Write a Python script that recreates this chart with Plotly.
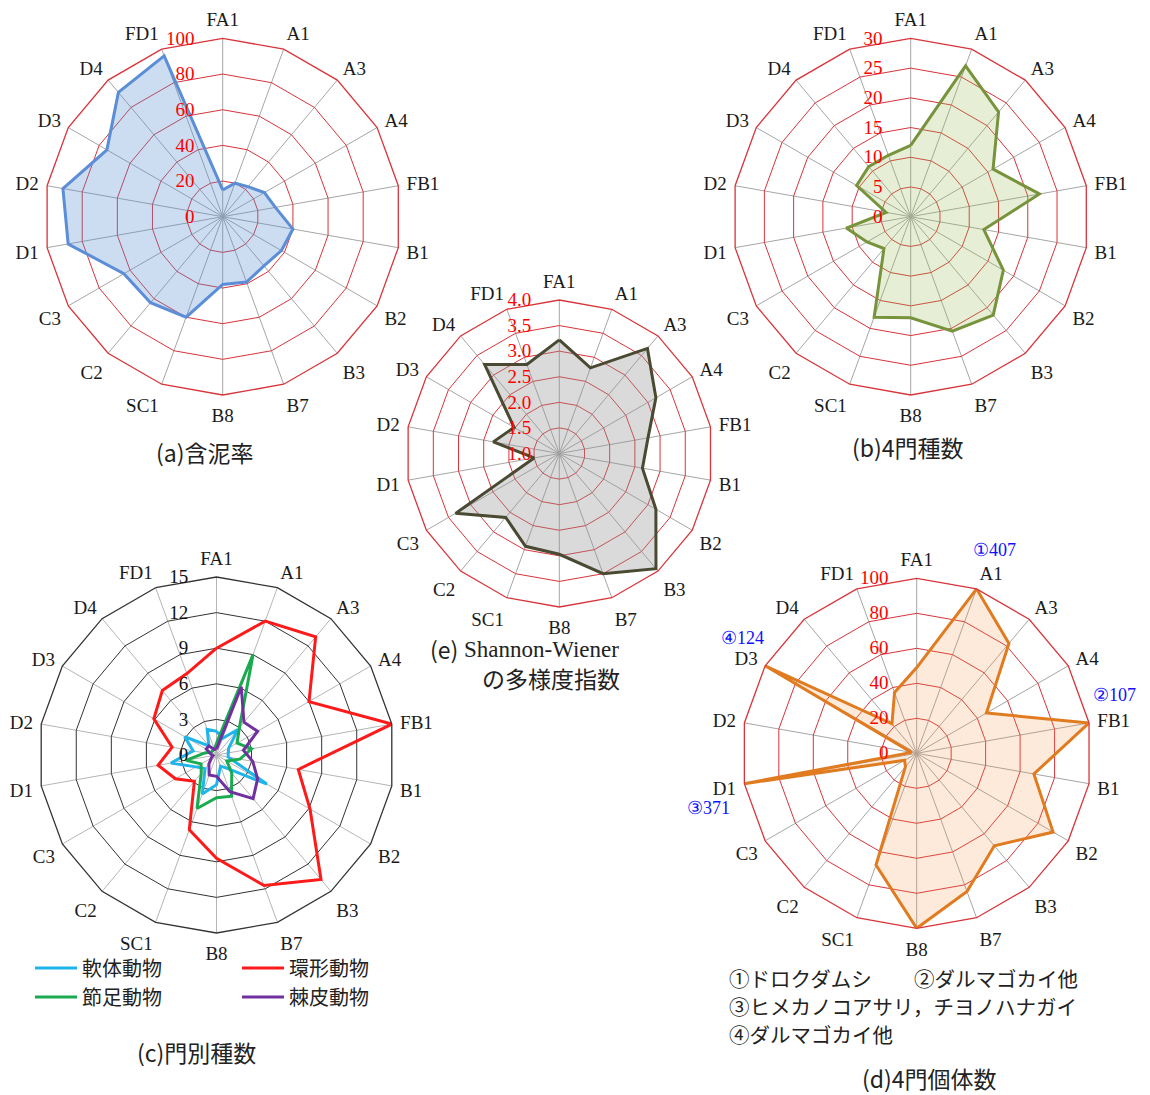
import plotly.graph_objects as go
import numpy as np

W, H = 1150, 1095

categories = ["FA1", "A1", "A3", "A4", "FB1", "B1", "B2", "B3", "B7", "B8",
              "SC1", "C2", "C3", "D1", "D2", "D3", "D4", "FD1"]

# (a) mud content (%)
mud_content = [15, 20, 22, 27, 30, 40, 38, 36, 39, 38, 60, 63, 64, 88, 91, 75, 91, 96]
# (b) number of species (4 phyla)
species_4phyla = [12, 27, 23, 16, 22, 12.5, 18, 21.6, 20.5, 17, 18, 7, 8.5, 11, 4.2, 10.5, 11, 11]
# (e) Shannon-Wiener diversity index
shannon = [3.22, 2.78, 3.68, 3.18, 2.76, 2.65, 3.18, 3.94, 3.5, 2.97, 2.93, 2.63, 3.34, 1.5, 2.31, 2.02, 3.27, 2.85]
# (c) species by phylum
mollusca = [2, 1.5, 2.8, 1.2, 1, 1, 4.9, 1.5, 1, 2.5, 3.5, 1.5, 2, 3.9, 2, 3.1, 1, 2.3]
annelida = [9, 12, 13, 9, 15, 7, 9.1, 13.7, 11.7, 8.7, 6.7, 2.9, 4, 5, 3.8, 6.1, 7.1, 7.3]
arthropoda = [1, 9, 3, 2, 3, 2, 1, 2, 3.7, 3.6, 4.8, 2, 1.5, 2.6, 1, 0.5, 0.5, 0.5]
echinodermata = [0.5, 6.1, 3.6, 4, 2.3, 3.1, 4, 4.8, 3.3, 1.8, 1.8, 1, 0.5, 0.3, 0.5, 1, 1, 0.5]
# (d) number of individuals (4 phyla), axis capped at 100
individuals = [49, 407, 82, 46, 107, 68, 90, 69, 84, 100, 68, 10, 8, 371, 3, 124, 22, 37]

radial_ticks_a = [0, 20, 40, 60, 80, 100]
radial_ticks_b = [0, 5, 10, 15, 20, 25, 30]
radial_ticks_e = [1.0, 1.5, 2.0, 2.5, 3.0, 3.5, 4.0]
radial_ticks_c = [0, 3, 6, 9, 12, 15]
radial_ticks_d = [0, 20, 40, 60, 80, 100]

SERIF = "Liberation Serif"
CJK = "Noto Sans CJK JP"
RED_GRID = "#d8343a"
SPOKE = "#a6a6a6"


def closed(v):
    v = list(v)
    return v + v[:1]


theta = closed(categories)


def polar_cfg(cx, cy, R, ticks, ring_color, spoke_color, label_color, fmt=None):
    return dict(
        domain=dict(x=[(cx - R) / W, (cx + R) / W], y=[1 - (cy + R) / H, 1 - (cy - R) / H]),
        gridshape="linear",
        bgcolor="white",
        angularaxis=dict(
            rotation=90, direction="clockwise", type="category",
            categoryorder="array", categoryarray=categories,
            showline=True, linecolor=ring_color, linewidth=1.3,
            showgrid=True, gridcolor=spoke_color, gridwidth=1.3,
            ticks="outside", ticklen=4, tickcolor="rgba(0,0,0,0)",
            tickfont=dict(family=SERIF, size=19, color="#1a1a1a"),
        ),
        radialaxis=dict(
            range=[ticks[0], ticks[-1]], tickvals=ticks,
            ticktext=[(fmt.format(t) if fmt else str(t)) for t in ticks],
            angle=90, side="counterclockwise", showline=False,
            showgrid=True, gridcolor=ring_color, gridwidth=1.3,
            ticks="outside", ticklen=21, tickcolor="rgba(0,0,0,0)",
            tickangle=90,
            tickfont=dict(family=SERIF, size=19, color=label_color),
        ),
    )


fig = go.Figure()

# (a)
fig.add_trace(go.Scatterpolar(
    r=closed(mud_content), theta=theta, subplot="polar", mode="lines",
    fill="toself", fillcolor="rgba(85,142,213,0.3)",
    line=dict(color="#5b8ed6", width=3), showlegend=False))
# (b)
fig.add_trace(go.Scatterpolar(
    r=closed(species_4phyla), theta=theta, subplot="polar2", mode="lines",
    fill="toself", fillcolor="rgba(155,187,89,0.25)",
    line=dict(color="#77933c", width=3), showlegend=False))
# (e)
fig.add_trace(go.Scatterpolar(
    r=closed(shannon), theta=theta, subplot="polar3", mode="lines",
    fill="toself", fillcolor="rgba(150,150,150,0.35)",
    line=dict(color="#4a4a32", width=3), showlegend=False))
# (c)
series_c = [
    ("軟体動物", mollusca, "#1fb4ea", "legend"),
    ("環形動物", annelida, "#ff1a1a", "legend"),
    ("節足動物", arthropoda, "#1aaa50", "legend2"),
    ("棘皮動物", echinodermata, "#7030a0", "legend2"),
]
for name, vals, col, lg in series_c:
    fig.add_trace(go.Scatterpolar(
        r=closed(vals), theta=theta, subplot="polar4", mode="lines", name=name,
        line=dict(color=col, width=3), showlegend=True, legend=lg))
# (d)
ind_plot = np.minimum(np.array(individuals, dtype=float), 100.0)
fig.add_trace(go.Scatterpolar(
    r=closed(ind_plot), theta=theta, subplot="polar5", mode="lines",
    fill="toself", fillcolor="rgba(247,150,70,0.2)",
    line=dict(color="#e07b20", width=3), showlegend=False))

annotations = []


def ann(text, x, y, size, color="#222", family=CJK, xanchor="center"):
    annotations.append(dict(
        text=text, x=x / W, y=1 - y / H, xref="paper", yref="paper",
        showarrow=False, xanchor=xanchor, yanchor="middle",
        font=dict(family=family, size=size, color=color)))


ann("(a)含泥率", 205, 452, 23)
ann("(b)4門種数", 908, 447, 23)
ann("(e)", 444, 649, 23, xanchor="center")
ann("Shannon-Wiener", 462, 649, 23, family=SERIF, xanchor="left")
ann("の多様度指数", 551, 678, 23)
ann("(c)門別種数", 196, 1052, 23)
ann("(d)4門個体数", 929, 1078, 23)

BLUE = "#1010ff"
ann("①407", 994, 550, 18, color=BLUE, family=SERIF)
ann("②107", 1114, 695, 18, color=BLUE, family=SERIF)
ann("③371", 708, 808, 18, color=BLUE, family=SERIF)
ann("④124", 742, 638, 18, color=BLUE, family=SERIF)

ann("①ドロクダムシ", 727, 978, 20.5, xanchor="left")
ann("②ダルマゴカイ他", 912, 978, 20.5, xanchor="left")
ann("③ヒメカノコアサリ，チヨノハナガイ", 727, 1006, 20.5, xanchor="left")
ann("④ダルマゴカイ他", 727, 1034, 20.5, xanchor="left")

legend_common = dict(
    orientation="h", xanchor="left", yanchor="middle",
    font=dict(family=CJK, size=20, color="#222"),
    bgcolor="rgba(0,0,0,0)", itemwidth=42, entrywidth=150,
    entrywidthmode="pixels", tracegroupgap=0,
)

fig.update_layout(
    width=W, height=H,
    margin=dict(l=0, r=0, t=0, b=0),
    paper_bgcolor="white",
    polar=polar_cfg(222.7, 216.7, 178.3, radial_ticks_a, RED_GRID, SPOKE, "#ff0000"),
    polar2=polar_cfg(910.7, 216.7, 178.3, radial_ticks_b, RED_GRID, SPOKE, "#ff0000"),
    polar3=polar_cfg(559.3, 453.5, 153.5, radial_ticks_e, RED_GRID, SPOKE, "#ff0000", fmt="{:.1f}"),
    polar4=polar_cfg(216.5, 755.0, 178.0, radial_ticks_c, "#333333", "#b5b5b5", "#111111"),
    polar5=polar_cfg(916.7, 753.3, 175.0, radial_ticks_d, RED_GRID, SPOKE, "#ff0000"),
    legend=dict(x=30 / W, y=1 - 968 / H, **legend_common),
    legend2=dict(x=30 / W, y=1 - 997 / H, **legend_common),
    annotations=annotations,
)

fig.write_html("out.html", config={"displayModeBar": False},
               post_script="document.body.style.margin='0';document.body.style.overflow='hidden';")
